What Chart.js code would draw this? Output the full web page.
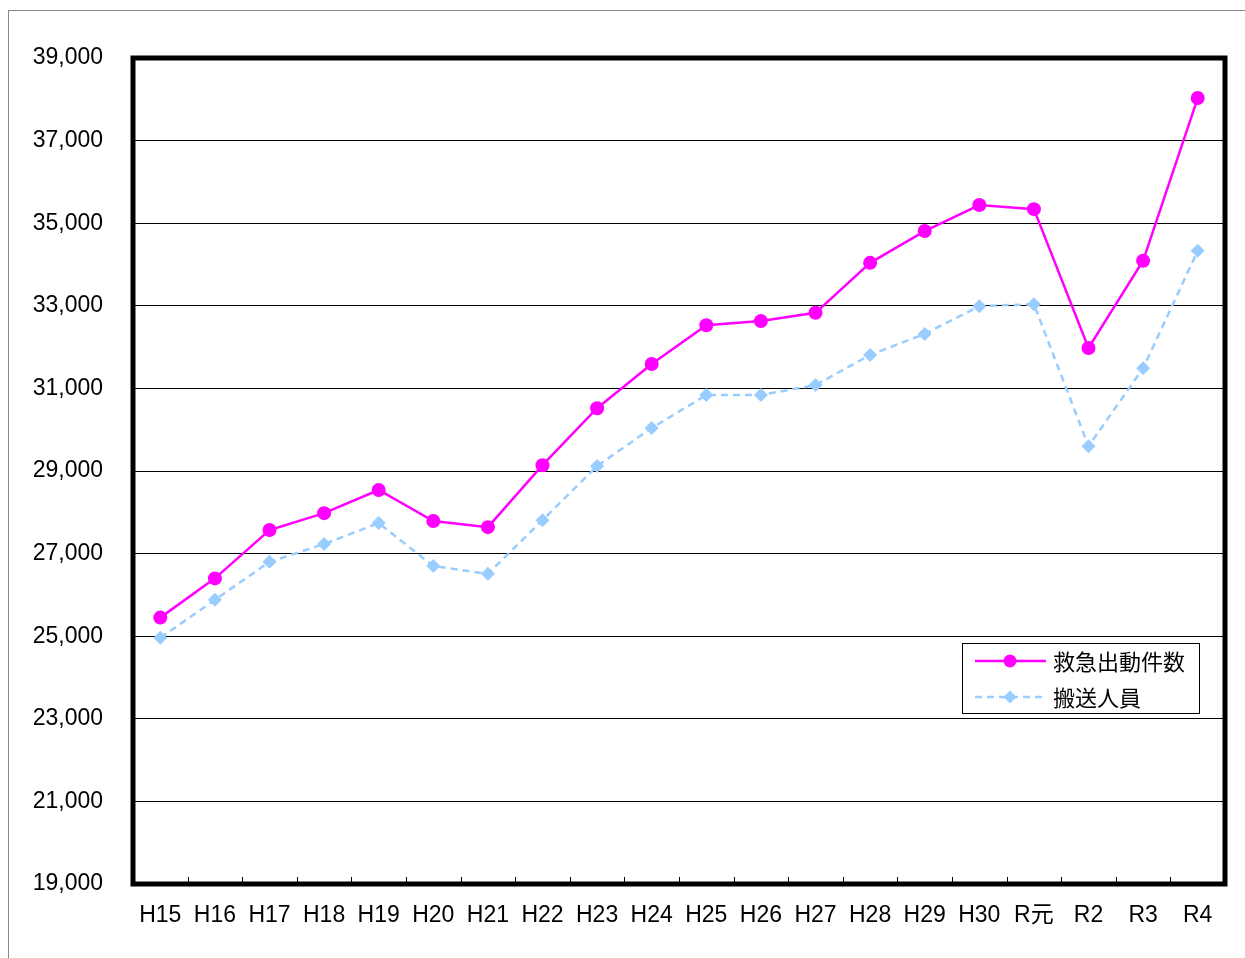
<!DOCTYPE html>
<html>
<head>
<meta charset="utf-8">
<script src="https://cdn.jsdelivr.net/npm/chart.js@4/dist/chart.umd.min.js"></script>
<style>
html,body{margin:0;padding:0;background:#fff;}
canvas{display:block;}
</style>
</head>
<body>
<canvas id="c" width="1245" height="958"></canvas>
<script>
const categories = ["H15","H16","H17","H18","H19","H20","H21","H22","H23","H24","H25","H26","H27","H28","H29","H30","R元","R2","R3","R4"];
const dispatches = [25450,26400,27570,27980,28540,27790,27640,29140,30520,31590,32530,32630,32830,34040,34810,35440,35340,31980,34090,38030];
const transported = [24960,25880,26800,27230,27740,26700,26510,27810,29120,30040,30840,30840,31080,31810,32320,32990,33040,29600,31490,34330];
const seriesNames = ["救急出動件数","搬送人員"];
const yMin = 19000, yMax = 39000, yStep = 2000;

const LATIN = '"Liberation Sans", "Noto Sans CJK JP", sans-serif';
const CJK = '"Noto Sans CJK JP", sans-serif';

const framePlugin = {
  id: 'frame',
  beforeDraw(chart) {
    const ctx = chart.ctx;
    ctx.save();
    ctx.fillStyle = '#fff';
    ctx.fillRect(0, 0, chart.width, chart.height);
    ctx.strokeStyle = '#888';
    ctx.lineWidth = 1;
    ctx.strokeRect(8.5, 10.5, 1400, 1100);
    ctx.restore();
  },
  afterDatasetsDraw(chart) {
    const ctx = chart.ctx, a = chart.chartArea, xs = chart.scales.x;
    ctx.save();
    ctx.strokeStyle = '#000';
    ctx.lineWidth = 1;
    for (let i = 0; i < categories.length - 1; i++) {
      const px = Math.round((xs.getPixelForValue(i) + xs.getPixelForValue(i + 1)) / 2) + 0.5;
      ctx.beginPath();
      ctx.moveTo(px, a.bottom);
      ctx.lineTo(px, a.bottom - 7);
      ctx.stroke();
    }
    ctx.lineWidth = 5;
    ctx.strokeStyle = '#000';
    ctx.strokeRect(a.left, a.top, a.right - a.left, a.bottom - a.top);
    // legend
    const bx = 962.5, by = 643.5, bw = 237, bh = 70;
    ctx.fillStyle = '#fff';
    ctx.fillRect(bx, by, bw, bh);
    ctx.lineWidth = 1;
    ctx.strokeStyle = '#000';
    ctx.strokeRect(bx, by, bw, bh);
    const rows = [661, 697];
    chart.data.datasets.forEach((ds, i) => {
      const y = rows[i];
      ctx.strokeStyle = ds.borderColor;
      ctx.lineWidth = ds.borderWidth;
      ctx.setLineDash(ds.borderDash || []);
      ctx.beginPath();
      ctx.moveTo(975, y);
      ctx.lineTo(1046, y);
      ctx.stroke();
      ctx.setLineDash([]);
      ctx.fillStyle = ds.pointBackgroundColor;
      ctx.beginPath();
      if (ds.pointStyle === 'circle') {
        ctx.arc(1010, y, 6.5, 0, Math.PI * 2);
      } else {
        const r = 6.5;
        ctx.moveTo(1010, y - r); ctx.lineTo(1010 + r, y); ctx.lineTo(1010, y + r); ctx.lineTo(1010 - r, y); ctx.closePath();
      }
      ctx.fill();
      ctx.fillStyle = '#000';
      ctx.font = '22px ' + CJK;
      ctx.textBaseline = 'middle';
      ctx.textAlign = 'left';
      ctx.fillText(ds.label, 1053, y + 1);
    });
    ctx.restore();
  }
};

new Chart(document.getElementById('c'), {
  type: 'line',
  data: {
    labels: categories,
    datasets: [
      {
        label: seriesNames[0],
        data: dispatches,
        borderColor: '#FF00FF',
        backgroundColor: '#FF00FF',
        pointBackgroundColor: '#FF00FF',
        pointBorderColor: '#FF00FF',
        borderWidth: 2.5,
        pointStyle: 'circle',
        pointRadius: 7,
        pointBorderWidth: 0,
        tension: 0
      },
      {
        label: seriesNames[1],
        data: transported,
        borderColor: '#99CCFF',
        backgroundColor: '#99CCFF',
        pointBackgroundColor: '#99CCFF',
        pointBorderColor: '#99CCFF',
        borderWidth: 2.5,
        borderDash: [7, 5],
        pointStyle: 'rectRot',
        pointRadius: 7,
        pointBorderWidth: 0,
        tension: 0
      }
    ]
  },
  options: {
    responsive: false,
    animation: false,
    layout: { padding: { left: 0, top: 58, right: 20, bottom: 0 } },
    plugins: { legend: { display: false }, tooltip: { enabled: false } },
    scales: {
      x: {
        type: 'category',
        offset: true,
        grid: { display: false },
        border: { display: false },
        ticks: {
          color: '#000',
          font: { family: LATIN, size: 23 },
          padding: 10,
          maxRotation: 0,
          autoSkip: false
        },
        afterFit(s) { s.height = 74; }
      },
      y: {
        min: yMin,
        max: yMax,
        grid: { color: '#000', lineWidth: 1, drawTicks: false },
        border: { display: false },
        ticks: {
          stepSize: yStep,
          color: '#000',
          font: { family: LATIN, size: 23 },
          padding: 30,
          callback: v => v.toLocaleString('en-US')
        },
        afterFit(s) { s.width = 133; }
      }
    }
  },
  plugins: [framePlugin]
});
</script>
</body>
</html>
